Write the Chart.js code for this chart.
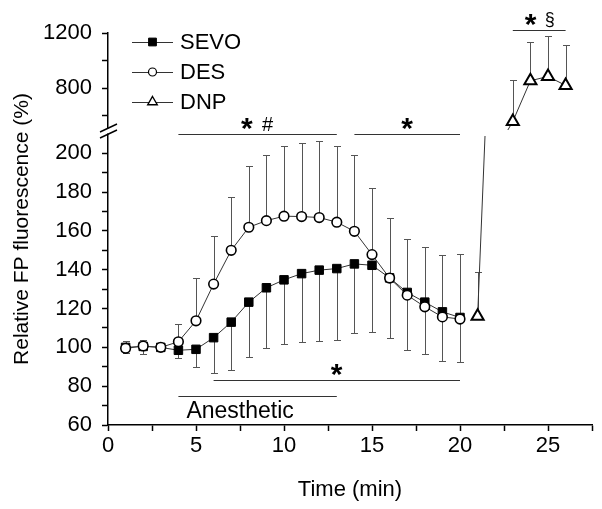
<!DOCTYPE html>
<html><head><meta charset="utf-8">
<script src="https://cdn.jsdelivr.net/npm/chart.js@4.4.0/dist/chart.umd.min.js"></script>
<style>html,body{margin:0;padding:0;background:#fff}canvas{display:block}</style>
</head><body>
<canvas id="c" width="602" height="509"></canvas>
<script>
// ---- data ----
const minutes = [1,2,3,4,5,6,7,8,9,10,11,12,13,14,15,16,17,18,19,20];
const sevo    = [100,100.5,100,98.5,99,105,113,123.3,130.7,134.8,138,139.8,140.6,143,142.3,135.8,128.3,123.3,118.3,115.4];
const sevoLow = [97,96.5,99,94.3,90,86.6,88.3,95.2,99.5,101.5,102.9,103.4,103.7,107.2,108,104.6,98.6,96.5,93.1,92.3];
const des     = [99.5,100.7,100,102.9,113.7,132.6,150,161.9,165.3,167.6,167.4,166.9,164.5,159.8,147.8,135.7,126.9,120.9,115.7,114.6];
const desHigh = [103.4,104,101,112,135.5,157.6,177.5,193.6,199,204,205.5,206.2,204,199,182,166.5,156,151.8,147.6,148.3];
const dnpMinutes = [21,23,24,25,26];
const dnp        = [116,557,853,884,819];
const dnpHigh    = [139,855,1134,1180,1115];
const xTicks     = [0,2.5,5,7.5,10,12.5,15,17.5,20,22.5,25,27.5];
const yLowTicks  = [60,70,80,90,100,110,120,130,140,150,160,170,180,190,200];
const yHighTicks = [600,800,1000,1200];
const LOW_MIN = 60, LOW_MAX = 212, HIGH_MIN = 495, HIGH_MAX = 1200;
const sigBars = [
  {from:4,  to:13, axis:'y',  at:209.7, marks:['*','#']},
  {from:14, to:20, axis:'y',  at:209.7, marks:['*']},
  {from:6,  to:20, axis:'y',  at:83.2,  marks:['*']},
  {from:23, to:26, axis:'y2', at:1219,  marks:['*','§']}
];
const anesthetic = {from:4, to:13, at:75, label:'Anesthetic'};

const FONT = "'Liberation Sans', Arial, sans-serif";
Chart.defaults.font.family = FONT;
Chart.defaults.color = '#000';

const pts = (xs, ys) => xs.map((t,i)=>({x:t, y:ys[i]}));
const dnpLowPts  = dnpMinutes.map((t,i)=>({x:t,y:dnp[i]})).filter(p=>p.y<=LOW_MAX);
const dnpHighPts = dnpMinutes.map((t,i)=>({x:t,y:dnp[i]})).filter(p=>p.y>LOW_MAX);

function marker(ctx, style, x, y, r, fill, lw){
  ctx.beginPath();
  if (style==='rect'){ const s=r*Math.SQRT1_2; ctx.rect(x-s,y-s,2*s,2*s); }
  else if (style==='circle'){ ctx.arc(x,y,r,0,2*Math.PI); }
  else { ctx.moveTo(x,y-r); ctx.lineTo(x+r*0.866,y+r*0.5); ctx.lineTo(x-r*0.866,y+r*0.5); ctx.closePath(); }
  ctx.fillStyle=fill; ctx.fill(); ctx.lineWidth=lw; ctx.strokeStyle='#000'; ctx.stroke();
}

const extras = {
  id:'extras',
  beforeDatasetsDraw(chart){
    const {ctx, chartArea:ca, scales:{x,y,y2}} = chart;
    ctx.save();
    ctx.strokeStyle='#555'; ctx.lineWidth=1;
    const bar=(sc,t,from,to)=>{
      const px=Math.round(x.getPixelForValue(t))+0.5;
      const p0=sc.getPixelForValue(from), p1=Math.round(sc.getPixelForValue(to))+0.5;
      ctx.beginPath(); ctx.moveTo(px,p0); ctx.lineTo(px,p1);
      ctx.moveTo(px-3.5,p1); ctx.lineTo(px+3.5,p1); ctx.stroke();
    };
    minutes.forEach((t,i)=>{ bar(y,t,sevo[i],sevoLow[i]); bar(y,t,des[i],desHigh[i]); });
    dnpMinutes.forEach((t,i)=>{ bar(dnp[i]<=LOW_MAX?y:y2,t,dnp[i],dnpHigh[i]); });
    // bridge between DNP points across the axis break
    if (dnpLowPts.length && dnpHighPts.length){
      const a=dnpLowPts[dnpLowPts.length-1], b=dnpHighPts[0];
      ctx.strokeStyle='#333'; ctx.lineWidth=1;
      [[y,6],[y2,0]].forEach(([sc,cut])=>{
        ctx.save();
        ctx.beginPath(); ctx.rect(ca.left, sc.top+cut, ca.right-ca.left, sc.bottom-sc.top-cut); ctx.clip();
        ctx.beginPath();
        ctx.moveTo(x.getPixelForValue(a.x), sc.getPixelForValue(a.y));
        ctx.lineTo(x.getPixelForValue(b.x), sc.getPixelForValue(b.y));
        ctx.stroke();
        ctx.restore();
      });
    }
    ctx.restore();
  },
  afterDraw(chart){
    const {ctx, chartArea:ca, scales:{x,y,y2}} = chart;
    ctx.save();
    // axis break
    const by = y.top;
    ctx.fillStyle='#fff';
    ctx.fillRect(ca.left-3, by-1.5, 6, 5);
    ctx.strokeStyle='#000'; ctx.lineWidth=1.4;
    ctx.beginPath();
    ctx.moveTo(ca.left-8, by+2); ctx.lineTo(ca.left+9, by-6);
    ctx.moveTo(ca.left-8, by+8); ctx.lineTo(ca.left+9, by);
    ctx.stroke();

    // significance bars
    const drawGlyphs=(marks,cx,cy)=>{
      const fonts = marks.map(m=> m==='*' ? 'bold 30px '+FONT : (m==='§' ? '18px '+FONT : '20px '+FONT));
      const ms = marks.map((m,i)=>{ ctx.font=fonts[i]; return ctx.measureText(m); });
      const gap=9;
      const ws = ms.map(m=>m.actualBoundingBoxLeft+m.actualBoundingBoxRight);
      let sx = cx - (ws.reduce((a,b)=>a+b,0)+gap*(marks.length-1))/2;
      ctx.fillStyle='#000'; ctx.textAlign='left'; ctx.textBaseline='alphabetic';
      marks.forEach((m,i)=>{
        ctx.font=fonts[i];
        const mm=ms[i];
        ctx.fillText(m, sx+mm.actualBoundingBoxLeft, cy+(mm.actualBoundingBoxAscent-mm.actualBoundingBoxDescent)/2);
        sx += ws[i]+gap;
      });
    };
    ctx.strokeStyle='#333'; ctx.lineWidth=1.2;
    sigBars.forEach(s=>{
      const sc = chart.scales[s.axis];
      const py = Math.round(sc.getPixelForValue(s.at))+0.5;
      const x0=x.getPixelForValue(s.from), x1=x.getPixelForValue(s.to);
      ctx.beginPath(); ctx.moveTo(x0,py); ctx.lineTo(x1,py); ctx.stroke();
      drawGlyphs(s.marks,(x0+x1)/2,py-11);
    });
    {
      const py=Math.round(y.getPixelForValue(anesthetic.at))+0.5;
      const x0=x.getPixelForValue(anesthetic.from), x1=x.getPixelForValue(anesthetic.to);
      ctx.beginPath(); ctx.moveTo(x0,py); ctx.lineTo(x1,py); ctx.stroke();
      ctx.font='23px '+FONT; ctx.fillStyle='#000'; ctx.textAlign='left'; ctx.textBaseline='alphabetic';
      ctx.fillText(anesthetic.label, x0+8, py+21);
    }

    // legend
    const styles=[['rect','#000',5.5,1],['circle','#fff',4,1.2],['triangle','#fff',5.5,1.4]];
    const lx=ca.left+24;
    ['SEVO','DES','DNP'].forEach((lab,i)=>{
      const ly=ca.top+9+30*i;
      ctx.strokeStyle='#333'; ctx.lineWidth=1;
      ctx.beginPath(); ctx.moveTo(lx,ly+0.5); ctx.lineTo(lx+41,ly+0.5); ctx.stroke();
      marker(ctx,styles[i][0],lx+20.5,ly,styles[i][2],styles[i][1],styles[i][3]);
      ctx.fillStyle='#000'; ctx.font='22px '+FONT; ctx.textAlign='left'; ctx.textBaseline='middle';
      ctx.fillText(lab, lx+48, ly+1);
    });

    // y title
    ctx.translate(22,(ca.top+ca.bottom)/2);
    ctx.rotate(-Math.PI/2);
    ctx.font='21px '+FONT; ctx.fillStyle='#000'; ctx.textAlign='center'; ctx.textBaseline='middle';
    ctx.fillText('Relative FP fluorescence (%)',0,0);
    ctx.restore();
  }
};

const lineDs = {borderColor:'#333', borderWidth:1, tension:0, fill:false, showLine:true};
new Chart(document.getElementById('c'), {
  type:'line',
  data:{datasets:[
    Object.assign({label:'SEVO', data:pts(minutes,sevo), yAxisID:'y', pointStyle:'rect', pointRadius:6,
      pointBackgroundColor:'#000', pointBorderColor:'#000', pointBorderWidth:1, order:2}, lineDs),
    Object.assign({label:'DES', data:pts(minutes,des), yAxisID:'y', pointStyle:'circle', pointRadius:4.8,
      pointBackgroundColor:'#fff', pointBorderColor:'#000', pointBorderWidth:1.6, order:1}, lineDs),
    Object.assign({label:'DNP', data:dnpLowPts, yAxisID:'y', pointStyle:'triangle', pointRadius:7,
      pointBackgroundColor:'#fff', pointBorderColor:'#000', pointBorderWidth:2, order:0}, lineDs),
    Object.assign({label:'DNP ', data:dnpHighPts, yAxisID:'y2', pointStyle:'triangle', pointRadius:7,
      pointBackgroundColor:'#fff', pointBorderColor:'#000', pointBorderWidth:2, order:0}, lineDs)
  ]},
  options:{
    responsive:false, animation:false, events:[],
    layout:{padding:{top:33,right:10,left:0,bottom:0}},
    plugins:{legend:{display:false}, tooltip:{enabled:false}},
    scales:{
      x:{type:'linear', min:0, max:27.5,
        afterBuildTicks:s=>{ s.ticks=xTicks.map(v=>({value:v})); },
        afterFit:s=>{ s.height=84; },
        ticks:{autoSkip:false, maxRotation:0, padding:2, font:{size:22}, color:'#000',
          callback:v=> (v%5===0 ? String(v) : '')},
        grid:{drawOnChartArea:false, tickLength:6, tickColor:'#000', tickWidth:1.5},
        border:{color:'#000', width:1.5},
        title:{display:true, text:'Time (min)', font:{size:22}, color:'#000', padding:{top:0,bottom:6}}
      },
      y:{type:'linear', position:'left', stack:'v', stackWeight:295, min:LOW_MIN, max:LOW_MAX,
        afterBuildTicks:s=>{ s.ticks=yLowTicks.map(v=>({value:v})); },
        afterFit:s=>{ s.width=108; },
        ticks:{autoSkip:false, padding:10, font:{size:22}, color:'#000', callback:v=>(v%20===0?String(v):'')},
        grid:{drawOnChartArea:false, tickLength:6, tickColor:'#000', tickWidth:1.5},
        border:{color:'#000', width:1.5}
      },
      y2:{type:'linear', position:'left', stack:'v', stackWeight:97, min:HIGH_MIN, max:HIGH_MAX,
        afterBuildTicks:s=>{ s.ticks=yHighTicks.map(v=>({value:v})); },
        afterFit:s=>{ s.width=108; },
        ticks:{autoSkip:false, padding:10, font:{size:22}, color:'#000', callback:v=>(v%400===0?String(v):'')},
        grid:{drawOnChartArea:false, tickLength:6, tickColor:'#000', tickWidth:1.5},
        border:{color:'#000', width:1.5}
      }
    }
  },
  plugins:[extras]
});
</script>
</body></html>
